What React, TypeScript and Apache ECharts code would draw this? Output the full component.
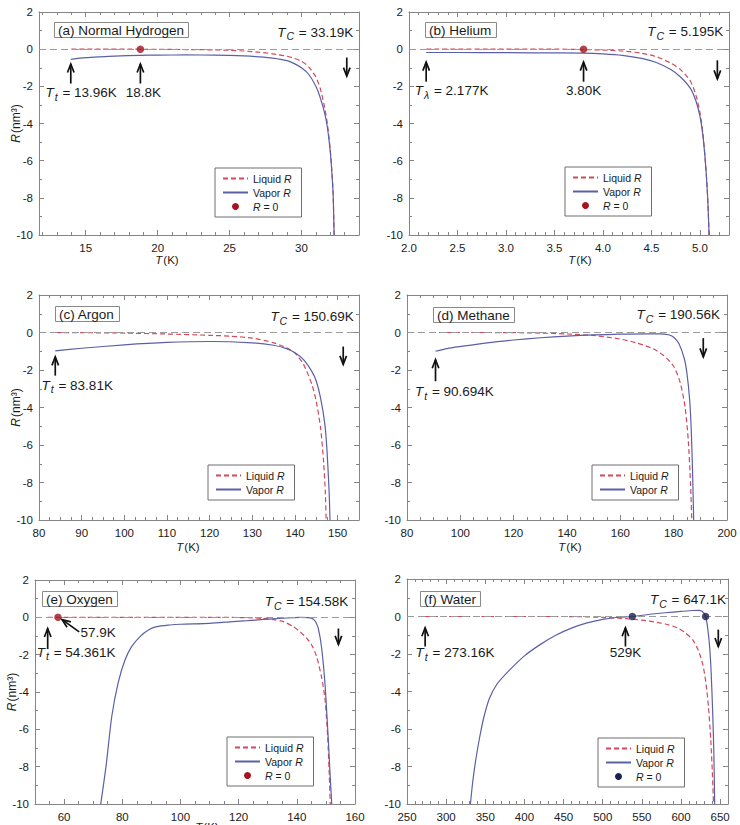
import { useEffect, useRef } from "react";
import * as echarts from "echarts";

const FONT = '"Liberation Sans", Arial, Helvetica, sans-serif';
const INK = "#1b1b1b";
const FRAME = "#858585";
const LIQUID = "#d4485a";
const VAPOR = "#5b5fa6";
const ZERO_LINE = "#9b9b9b";
const DOT_RED = "#a3141f";
const DOT_NAVY = "#1b1e4e";
const ARROW = "#111111";

// ---------- (a) Normal hydrogen ----------
const h2LiquidT = [14, 16, 18, 20, 22, 24, 25, 26, 27, 28, 29, 29.5, 30, 30.5, 31, 31.3, 31.6, 31.8, 32.0, 32.1, 32.2, 32.27];
const h2LiquidR = [0, 0, 0, -0.01, -0.02, -0.04, -0.06, -0.1, -0.16, -0.25, -0.38, -0.5, -0.65, -0.95, -1.5, -2.1, -3.1, -4.0, -5.4, -6.4, -7.7, -10];
const h2VaporT = [13.96, 15, 16, 17, 18.8, 20, 22, 24, 25, 26, 27, 28, 29, 29.5, 30, 30.5, 31, 31.3, 31.6, 31.8, 32.0, 32.1, 32.2, 32.27];
const h2VaporR = [-0.55, -0.46, -0.41, -0.37, -0.33, -0.32, -0.31, -0.32, -0.33, -0.36, -0.41, -0.48, -0.62, -0.78, -1.0, -1.35, -2.0, -2.6, -3.4, -4.2, -5.5, -6.5, -7.8, -10];
const h2ZeroT = [18.8];
const h2XLabels = [15, 20, 25, 30];

// ---------- (b) Helium ----------
const heLiquidT = [2.18, 3.0, 3.5, 3.8, 4.0, 4.2, 4.4, 4.55, 4.7, 4.8, 4.9, 4.96, 5.0, 5.03, 5.06, 5.08, 5.095];
const heLiquidR = [0, 0, 0, -0.02, -0.05, -0.1, -0.22, -0.4, -0.75, -1.1, -1.7, -2.5, -3.4, -4.5, -6.3, -8.0, -10];
const heVaporT = [2.177, 2.5, 3.0, 3.5, 3.8, 4.0, 4.2, 4.4, 4.55, 4.7, 4.8, 4.9, 4.96, 5.0, 5.03, 5.06, 5.08, 5.095];
const heVaporR = [-0.18, -0.18, -0.19, -0.2, -0.21, -0.25, -0.33, -0.5, -0.72, -1.1, -1.5, -2.1, -2.8, -3.6, -4.6, -6.3, -8.0, -10];
const heZeroT = [3.8];
const heXLabels = [2.0, 2.5, 3.0, 3.5, 4.0, 4.5, 5.0];

// ---------- (c) Argon ----------
const arLiquidT = [84, 90, 100, 110, 120, 125, 130, 135, 138, 140, 142, 144, 145, 146, 146.7, 147.1, 147.3];
const arLiquidR = [0, -0.01, -0.03, -0.08, -0.15, -0.2, -0.3, -0.55, -0.82, -1.1, -1.7, -2.8, -3.7, -5.1, -6.9, -8.5, -10];
const arVaporT = [83.81, 90, 100, 110, 120, 130, 135, 138, 140, 142, 144, 145, 146, 147, 147.5, 148, 148.2];
const arVaporR = [-0.98, -0.84, -0.66, -0.53, -0.48, -0.55, -0.68, -0.86, -1.08, -1.45, -2.1, -2.6, -3.5, -4.9, -6.3, -8.5, -10];
const arXLabels = [80, 90, 100, 110, 120, 130, 140, 150];

// ---------- (d) Methane ----------
const ch4LiquidT = [92, 110, 130, 140, 150, 160, 166, 172, 176, 180, 182.5, 184.3, 185.5, 186.3, 186.8];
const ch4LiquidR = [0, 0, -0.03, -0.08, -0.16, -0.35, -0.55, -0.85, -1.2, -1.8, -2.7, -4.0, -5.8, -8.0, -10];
const ch4VaporT = [90.694, 95, 100, 110, 120, 130, 140, 150, 160, 170, 175, 178, 180, 182, 184, 185, 186, 186.6, 187.1, 187.5];
const ch4VaporR = [-1.0, -0.86, -0.75, -0.55, -0.4, -0.28, -0.19, -0.13, -0.09, -0.07, -0.07, -0.12, -0.25, -0.6, -1.4, -2.2, -3.6, -5.2, -7.5, -10];
const ch4XLabels = [80, 100, 120, 140, 160, 180, 200];

// ---------- (e) Oxygen ----------
const o2LiquidT = [54.361, 70, 90, 110, 120, 125, 128.5, 132, 135.4, 138.8, 141.1, 143.4, 145.1, 146.8, 148.5, 149.7, 150.6, 151.1, 151.5];
const o2LiquidR = [0, 0, 0, 0, -0.01, -0.03, -0.06, -0.12, -0.23, -0.5, -0.77, -1.12, -1.48, -2.1, -3.2, -4.4, -6.4, -8.2, -10];
const o2VaporT = [72.6, 74.4, 76.4, 78.6, 80.9, 83.2, 86.1, 89.0, 91.8, 96.4, 100, 110, 118, 123, 128.5, 135, 141, 144, 145.7, 146.5, 147.4, 148.5, 149.7, 150.8, 151.5, 152.0];
const o2VaporR = [-10, -8, -5.3, -3.5, -2.3, -1.57, -1.03, -0.68, -0.5, -0.41, -0.37, -0.32, -0.23, -0.18, -0.11, -0.05, 0, -0.02, -0.1, -0.25, -0.6, -1.6, -3.6, -6.5, -8.6, -10];
const o2ZeroT = [57.9];
const o2XLabels = [60, 80, 100, 120, 140, 160];

// ---------- (f) Water ----------
const h2oLiquidT = [273.16, 350, 450, 480, 500, 520, 540, 560, 580, 595, 605, 615, 622, 628, 632, 635, 638, 640, 641.5];
const h2oLiquidR = [0, 0, 0, -0.02, -0.05, -0.09, -0.15, -0.25, -0.4, -0.6, -0.85, -1.25, -1.8, -2.6, -3.6, -4.8, -6.6, -8.3, -10];
const h2oVaporT = [331, 334, 338, 343, 348, 355, 365, 380, 400, 420, 440, 460, 480, 500, 520, 538, 560, 580, 600, 615, 622, 627, 631.4, 634, 636.5, 638.5, 640.5, 642, 643];
const h2oVaporR = [-10, -8.8, -7.6, -6.4, -5.4, -4.4, -3.6, -2.9, -2.1, -1.5, -1.0, -0.62, -0.34, -0.15, -0.04, 0, 0.12, 0.2, 0.27, 0.32, 0.33, 0.28, 0, -0.6, -1.6, -3.0, -5.2, -7.4, -10];
const h2oZeroT = [537.8, 631.4];
const h2oXLabels = [250, 300, 350, 400, 450, 500, 550, 600, 650];

// shared y axis
const yLabels = [-10, -8, -6, -4, -2, 0, 2];

const range = (from: number, to: number, step: number) => {
  const out: number[] = [];
  for (let v = from; v <= to + step * 1e-6; v += step) out.push(Math.round(v * 1000) / 1000);
  return out;
};
const pairs = (t: number[], r: number[]) => t.map((v, k) => [v, r[k]]);

type Arrow = { from: number[]; to: number[] };
type Note = { at: number[]; text: string; align: "left" | "center" | "right" };

type Panel = {
  box: { left: number; top: number; width: number; height: number };
  xMin: number;
  xMax: number;
  xLabels: number[];
  xMinorStep: number;
  decimals: number;
  liquidT: number[];
  liquidR: number[];
  vaporT: number[];
  vaporR: number[];
  zeroT: number[];
  dotColor: string;
  title: string;
  titleAt: number[];
  legendAt: number[];
  yName: boolean;
  xName: boolean;
  xNameGap: number;
  xNameShift: number;
  arrows: Arrow[];
  notes: Note[];
};

const PANELS: Panel[] = [
  {
    box: { left: 39, top: 12, width: 320, height: 223 },
    xMin: 11.75, xMax: 34, xLabels: h2XLabels, xMinorStep: 1, decimals: 0,
    liquidT: h2LiquidT, liquidR: h2LiquidR, vaporT: h2VaporT, vaporR: h2VaporR,
    zeroT: h2ZeroT, dotColor: DOT_RED,
    title: "(a) Normal Hydrogen", titleAt: [54, 22], legendAt: [215, 168],
    yName: true, xName: true, xNameGap: 19, xNameShift: -32,
    arrows: [
      { from: [13.96, -1.85], to: [13.96, -0.8] },
      { from: [18.8, -1.85], to: [18.8, -0.8] },
      { from: [33.15, -0.45], to: [33.15, -1.45] },
    ],
    notes: [
      { at: [12.2, -2.35], text: "{it|T}{sub|t} = 13.96K", align: "left" },
      { at: [19.0, -2.35], text: "18.8K", align: "center" },
      { at: [33.6, 0.9], text: "{it|T}{sub|C} = 33.19K", align: "right" },
    ],
  },
  {
    box: { left: 409, top: 12, width: 320, height: 223 },
    xMin: 2.0, xMax: 5.3, xLabels: heXLabels, xMinorStep: 0.1, decimals: 1,
    liquidT: heLiquidT, liquidR: heLiquidR, vaporT: heVaporT, vaporR: heVaporR,
    zeroT: heZeroT, dotColor: DOT_RED,
    title: "(b) Helium", titleAt: [425, 22], legendAt: [565, 167],
    yName: false, xName: true, xNameGap: 19, xNameShift: 11,
    arrows: [
      { from: [2.177, -1.75], to: [2.177, -0.7] },
      { from: [3.8, -1.75], to: [3.8, -0.7] },
      { from: [5.18, -0.6], to: [5.18, -1.6] },
    ],
    notes: [
      { at: [2.06, -2.25], text: "{it|T}{sub|λ} = 2.177K", align: "left" },
      { at: [3.8, -2.25], text: "3.80K", align: "center" },
      { at: [5.24, 0.93], text: "{it|T}{sub|C} = 5.195K", align: "right" },
    ],
  },
  {
    box: { left: 39, top: 295, width: 320, height: 225 },
    xMin: 80, xMax: 155, xLabels: arXLabels, xMinorStep: 2.5, decimals: 0,
    liquidT: arLiquidT, liquidR: arLiquidR, vaporT: arVaporT, vaporR: arVaporR,
    zeroT: [], dotColor: DOT_RED,
    title: "(c) Argon", titleAt: [55, 306], legendAt: [208, 465],
    yName: true, xName: true, xNameGap: 21, xNameShift: -11,
    arrows: [
      { from: [83.81, -2.3], to: [83.81, -1.3] },
      { from: [151.3, -0.75], to: [151.3, -1.7] },
    ],
    notes: [
      { at: [80.6, -2.8], text: "{it|T}{sub|t} = 83.81K", align: "left" },
      { at: [153.8, 0.85], text: "{it|T}{sub|C} = 150.69K", align: "right" },
    ],
  },
  {
    box: { left: 407, top: 295, width: 320, height: 225 },
    xMin: 80, xMax: 200, xLabels: ch4XLabels, xMinorStep: 5, decimals: 0,
    liquidT: ch4LiquidT, liquidR: ch4LiquidR, vaporT: ch4VaporT, vaporR: ch4VaporR,
    zeroT: [], dotColor: DOT_RED,
    title: "(d) Methane", titleAt: [433, 307], legendAt: [592, 465],
    yName: false, xName: true, xNameGap: 21, xNameShift: 3,
    arrows: [
      { from: [90.694, -2.6], to: [90.694, -1.45] },
      { from: [191.1, -0.3], to: [191.1, -1.3] },
    ],
    notes: [
      { at: [83, -3.15], text: "{it|T}{sub|t} = 90.694K", align: "left" },
      { at: [197.4, 0.94], text: "{it|T}{sub|C} = 190.56K", align: "right" },
    ],
  },
  {
    box: { left: 35, top: 580, width: 320, height: 224 },
    xMin: 50, xMax: 160, xLabels: o2XLabels, xMinorStep: 5, decimals: 0,
    liquidT: o2LiquidT, liquidR: o2LiquidR, vaporT: o2VaporT, vaporR: o2VaporR,
    zeroT: o2ZeroT, dotColor: DOT_RED,
    title: "(e) Oxygen", titleAt: [42, 591], legendAt: [227, 737],
    yName: true, xName: true, xNameGap: 17, xNameShift: 12,
    arrows: [
      { from: [54.361, -1.7], to: [54.361, -0.6] },
      { from: [65.2, -0.78], to: [59.3, -0.12] },
      { from: [154.3, -0.6], to: [154.3, -1.45] },
    ],
    notes: [
      { at: [50.6, -1.87], text: "{it|T}{sub|t} = 54.361K", align: "left" },
      { at: [65.6, -0.8], text: "57.9K", align: "left" },
      { at: [157.7, 0.84], text: "{it|T}{sub|C} = 154.58K", align: "right" },
    ],
  },
  {
    box: { left: 407, top: 579, width: 321, height: 225 },
    xMin: 250, xMax: 660, xLabels: h2oXLabels, xMinorStep: 10, decimals: 0,
    liquidT: h2oLiquidT, liquidR: h2oLiquidR, vaporT: h2oVaporT, vaporR: h2oVaporR,
    zeroT: h2oZeroT, dotColor: DOT_NAVY,
    title: "(f) Water", titleAt: [420, 591], legendAt: [598, 738],
    yName: false, xName: false, xNameGap: 17, xNameShift: 0,
    arrows: [
      { from: [273.16, -1.6], to: [273.16, -0.6] },
      { from: [529, -1.6], to: [529, -0.6] },
      { from: [647.6, -0.7], to: [647.6, -1.6] },
    ],
    notes: [
      { at: [261, -1.93], text: "{it|T}{sub|t} = 273.16K", align: "left" },
      { at: [529, -1.93], text: "529K", align: "center" },
      { at: [657.4, 0.89], text: "{it|T}{sub|C} = 647.1K", align: "right" },
    ],
  },
];

const NOTE_SIZE = 13.5;
const NOTE_RICH = {
  it: { fontStyle: "italic", fontSize: NOTE_SIZE, fontFamily: FONT, fill: INK, color: INK },
  sub: { fontStyle: "italic", fontSize: 10.5, fontFamily: FONT, fill: INK, color: INK, padding: [8, 1, 0, 1] },
};

const TICK_FONT = 11.5;

function buildAxes(p: Panel, i: number) {
  const xs: any[] = [];
  const ys: any[] = [];
  const xMinor = range(Math.ceil(p.xMin / p.xMinorStep) * p.xMinorStep, p.xMax, p.xMinorStep);
  const yMinor = range(-10, 2, 1);
  const common = { type: "value", gridIndex: i, splitLine: { show: false }, nameMoveOverlap: false };
  const line = (show: boolean) => ({ show, onZero: false, lineStyle: { color: FRAME, width: 1 } });
  const tick = (values: number[], length: number) => ({
    show: true, inside: true, length, customValues: values, lineStyle: { color: FRAME, width: 1 },
  });
  const xBase = { ...common, min: p.xMin, max: p.xMax };
  xs.push({
    ...xBase,
    position: "bottom",
    axisLine: line(true),
    axisTick: tick(p.xLabels, 5),
    axisLabel: {
      show: true, customValues: p.xLabels, margin: 7, fontSize: TICK_FONT, color: INK, fontFamily: FONT,
      formatter: (v: number) => v.toFixed(p.decimals),
    },
    ...(p.xName
      ? {
          name: "{i|T}(K)",
          nameLocation: "middle",
          nameGap: p.xNameGap,
          nameTextStyle: {
            fontSize: TICK_FONT, color: INK, fontFamily: FONT,
            padding: p.xNameShift >= 0 ? [0, 0, 0, 2 * p.xNameShift] : [0, -2 * p.xNameShift, 0, 0],
            rich: { i: { fontStyle: "italic", fontSize: TICK_FONT, fontFamily: FONT, color: INK, padding: [0, 1, 0, 0] } },
          },
        }
      : {}),
  });
  xs.push({ ...xBase, position: "bottom", axisLine: line(false), axisTick: tick(xMinor, 3), axisLabel: { show: false } });
  xs.push({ ...xBase, position: "top", axisLine: line(true), axisTick: tick(p.xLabels, 5), axisLabel: { show: false } });
  xs.push({ ...xBase, position: "top", axisLine: line(false), axisTick: tick(xMinor, 3), axisLabel: { show: false } });

  const yBase = { ...common, min: -10, max: 2 };
  ys.push({
    ...yBase,
    position: "left",
    axisLine: line(true),
    axisTick: tick(yLabels, 5),
    axisLabel: { show: true, customValues: yLabels, margin: 6, fontSize: TICK_FONT, color: INK, fontFamily: FONT },
    ...(p.yName
      ? {
          name: "{i|R}(nm³)",
          nameLocation: "middle",
          nameGap: 17,
          nameTextStyle: {
            fontSize: 12, color: INK, fontFamily: FONT,
            rich: { i: { fontStyle: "italic", fontSize: 12, fontFamily: FONT, color: INK, padding: [0, 1, 0, 0] } },
          },
        }
      : {}),
  });
  ys.push({ ...yBase, position: "left", axisLine: line(false), axisTick: tick(yMinor, 3), axisLabel: { show: false } });
  ys.push({ ...yBase, position: "right", axisLine: line(true), axisTick: tick(yLabels, 5), axisLabel: { show: false } });
  ys.push({ ...yBase, position: "right", axisLine: line(false), axisTick: tick(yMinor, 3), axisLabel: { show: false } });
  return { xs, ys };
}

function buildOption() {
  const grid: any[] = [];
  const xAxis: any[] = [];
  const yAxis: any[] = [];
  const series: any[] = [];
  const legend: any[] = [];
  const title: any[] = [];

  PANELS.forEach((p, i) => {
    grid.push({ ...p.box, containLabel: false, outerBoundsMode: "none", show: false });
    const { xs, ys } = buildAxes(p, i);
    xAxis.push(...xs);
    yAxis.push(...ys);
    const axisIdx = { xAxisIndex: 4 * i, yAxisIndex: 4 * i };

    series.push({
      type: "line",
      name: "Liquid R",
      ...axisIdx,
      data: pairs(p.liquidT, p.liquidR),
      symbol: "none",
      showSymbol: false,
      smooth: 0.25,
      lineStyle: { color: LIQUID, width: 1.2, type: [5, 3] },
      itemStyle: { color: LIQUID },
      z: 3,
    });
    series.push({
      type: "line",
      name: "Vapor R",
      ...axisIdx,
      data: pairs(p.vaporT, p.vaporR),
      symbol: "none",
      showSymbol: false,
      smooth: 0.25,
      lineStyle: { color: VAPOR, width: 1.2 },
      itemStyle: { color: VAPOR },
      z: 4,
      markLine: {
        silent: true,
        symbol: ["none", "none"],
        label: { show: false },
        lineStyle: { color: ZERO_LINE, type: [7, 4], width: 1 },
        data: [{ yAxis: 0 }],
      },
    });
    if (p.zeroT.length) {
      series.push({
        type: "scatter",
        name: "R = 0",
        ...axisIdx,
        data: p.zeroT.map((t) => [t, 0]),
        symbol: "circle",
        symbolSize: 7.5,
        itemStyle: { color: p.dotColor },
        z: 5,
      });
    }

    const items: any[] = [
      { name: "Liquid R", itemStyle: { opacity: 0 } },
      { name: "Vapor R", itemStyle: { opacity: 0 } },
    ];
    if (p.zeroT.length) items.push({ name: "R = 0", itemStyle: { color: p.dotColor, opacity: 1 } });
    legend.push({
      show: true,
      orient: "vertical",
      left: p.legendAt[0],
      top: p.legendAt[1],
      data: items,
      selectedMode: false,
      backgroundColor: "#ffffff",
      borderColor: "#6e6e6e",
      borderWidth: 1,
      borderRadius: 0,
      padding: [5, 10, 5, 7],
      itemWidth: 25,
      itemHeight: 7,
      itemGap: 3,
      textStyle: {
        fontSize: 10.5, color: INK, fontFamily: FONT,
        rich: { i: { fontStyle: "italic", fontSize: 10.5, color: INK, fontFamily: FONT } },
      },
      formatter: (name: string) => name.replace(/R/, "{i|R}"),
    });

    title.push({
      text: p.title,
      left: p.titleAt[0],
      top: p.titleAt[1],
      padding: [1, 5, 1, 4],
      borderColor: "#8a8a8a",
      borderWidth: 1,
      backgroundColor: "#ffffff",
      textStyle: { fontSize: NOTE_SIZE, fontWeight: "normal", color: INK, fontFamily: FONT },
    });
  });

  return {
    animation: false,
    backgroundColor: "#ffffff",
    textStyle: { fontFamily: FONT },
    title,
    legend,
    grid,
    xAxis,
    yAxis,
    series,
  };
}

function buildGraphics(chart: echarts.ECharts) {
  const out: any[] = [];
  PANELS.forEach((p, i) => {
    const finder = { xAxisIndex: 4 * i, yAxisIndex: 4 * i };
    const toPx = (pt: number[]) => chart.convertToPixel(finder, pt) as unknown as number[];
    p.arrows.forEach((a) => {
      const [x1, y1] = toPx(a.from);
      const [x2, y2] = toPx(a.to);
      const len = Math.hypot(x2 - x1, y2 - y1) || 1;
      const ux = (x2 - x1) / len;
      const uy = (y2 - y1) / len;
      const nx = -uy;
      const ny = ux;
      const hl = 8.5;
      const hw = 3.3;
      out.push({
        type: "line",
        silent: true,
        shape: { x1, y1, x2, y2 },
        style: { stroke: ARROW, lineWidth: 1.7 },
        z: 50,
      });
      out.push({
        type: "polyline",
        silent: true,
        shape: {
          points: [
            [x2 - hl * ux + hw * nx, y2 - hl * uy + hw * ny],
            [x2, y2],
            [x2 - hl * ux - hw * nx, y2 - hl * uy - hw * ny],
          ],
        },
        style: { stroke: ARROW, lineWidth: 1.7, fill: null },
        z: 50,
      });
    });
    p.notes.forEach((n) => {
      const [x, y] = toPx(n.at);
      out.push({
        type: "text",
        silent: true,
        x,
        y,
        z: 50,
        style: {
          text: n.text,
          fill: INK,
          fontSize: NOTE_SIZE,
          fontFamily: FONT,
          align: n.align,
          textAlign: n.align,
          verticalAlign: "middle",
          textVerticalAlign: "middle",
          rich: NOTE_RICH,
        },
      });
    });
  });
  return out;
}

export default function App() {
  const ref = useRef<HTMLDivElement>(null);
  useEffect(() => {
    const el = ref.current;
    if (!el) return;
    const chart = echarts.init(el, null, { renderer: "svg" });
    chart.setOption(buildOption() as any);
    chart.setOption({ graphic: buildGraphics(chart) } as any);
    return () => chart.dispose();
  }, []);
  return (
    <div
      ref={ref}
      style={{ position: "absolute", left: 0, top: 0, width: 740, height: 825, background: "#ffffff" }}
    />
  );
}
